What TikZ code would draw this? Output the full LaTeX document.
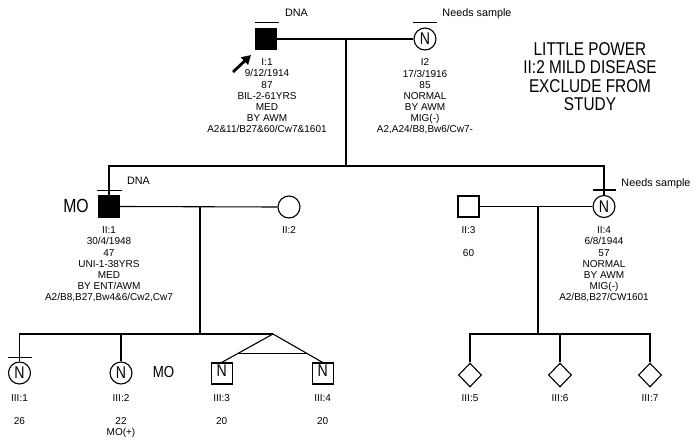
\documentclass[tikz,border=0pt]{standalone}
\usepackage{fontspec}
\setmainfont{Liberation Sans}
\newfontfamily\condfont[FakeStretch=0.83]{Liberation Sans}
\usetikzlibrary{shapes.geometric,arrows.meta,calc}
\begin{document}
\begin{tikzpicture}[x=1pt,y=-1pt, line width=1.1pt,
  male/.style={draw, rectangle, minimum size=21pt, inner sep=0pt},
  affm/.style={male, fill=black},
  female/.style={draw, circle, minimum size=22pt, inner sep=0pt, font=\condfont\fontsize{17}{17}\selectfont},
  unk/.style={draw, diamond, minimum width=23pt, minimum height=24pt, inner sep=0pt},
  infotxt/.style={anchor=north, inner sep=0pt, align=center, font=\fontsize{10}{11.1}\selectfont},
  notetxt/.style={anchor=base, inner sep=0pt, font=\fontsize{10.8}{12}\selectfont},
  bigtxt/.style={anchor=base, inner sep=0pt, font=\condfont\fontsize{19}{19}\selectfont},
  midtxt/.style={anchor=base, inner sep=0pt, font=\condfont\fontsize{16}{16}\selectfont},
  titletxt/.style={anchor=north, inner sep=0pt, align=center, font=\condfont\fontsize{18.5}{18.5}\selectfont},
  ntxt/.style={inner sep=0pt, font=\condfont\fontsize{17}{17}\selectfont},
  barline/.style={line width=1.1pt},
  arrowline/.style={line width=2.8pt, -{Triangle[length=9pt,width=10pt]}}
]
\useasboundingbox (0,0) rectangle (696,441);

% ---------- Generation I ----------
\node[affm] (I1) at (266,39) {};
\node[female] (I2) at (425,39) {N};
\draw[barline] ($(I1.north)+(-11,-5)$) -- ($(I1.north)+(13,-5)$);
\draw[barline] ($(I2.north)+(-12,-5)$) -- ($(I2.north)+(12,-5)$);
\node[notetxt] (dnaI) at (296.5,17) {DNA};
\node[notetxt] (nsI) at (477,17) {Needs sample};
\coordinate (arrT) at (233,72);
\coordinate (arrH) at (251,55);
\draw[arrowline] (arrT) -- (arrH);

\node[infotxt] (I1t) at (267,58.4) {I:1\\9/12/1914\\87\\BIL-2-61YRS\\MED\\BY AWM\\A2\&11/B27\&60/Cw7\&1601};
\node[infotxt] (I2t) at (425,58.4) {I2\\17/3/1916\\85\\NORMAL\\BY AWM\\MIG(-)\\A2,A24/B8,Bw6/Cw7-};

\node[titletxt] (title) at (590,42) {LITTLE POWER\\II:2 MILD DISEASE\\EXCLUDE FROM\\STUDY};

\coordinate (m1) at (346,39);
\coordinate (s1) at (346,166);
\draw (I1.east) -- (I2.west);
\draw (m1) -- (s1);

% ---------- Generation II ----------
\node[affm] (II1) at (109,206.5) {};
\node[female] (II2) at (289,207) {};
\node[male] (II3) at (468.5,206.5) {};
\node[female] (II4) at (604,206.5) {N};
\draw[barline] ($(II1.north)+(-12.5,-5)$) -- ($(II1.north)+(12.5,-5)$);
\draw[barline] ($(II4.north)+(-11.5,-5)$) -- ($(II4.north)+(11.5,-5)$);
\draw (II1.north) |- (s1) -| (II4.north);
\node[notetxt] (dnaII) at (138.5,184) {DNA};
\node[notetxt] (nsII) at (656,186) {Needs sample};
\node[bigtxt] (moII) at (76,212) {MO};

\node[infotxt] (II1t) at (109,226.4) {II:1\\30/4/1948\\47\\UNI-1-38YRS\\MED\\BY ENT/AWM\\A2/B8,B27,Bw4\&6/Cw2,Cw7};
\node[infotxt] (II2t) at (289,226.4) {II:2};
\node[infotxt] (II3t) at (468.5,226.4) {II:3\\~\\60};
\node[infotxt] (II4t) at (604,226.4) {II:4\\6/8/1944\\57\\NORMAL\\BY AWM\\MIG(-)\\A2/B8,B27/CW1601};

\coordinate (m2) at (200,207);
\coordinate (s2) at (200,334);
\coordinate (m3) at (538,207);
\coordinate (s3) at (538,334);
\draw (II1.east) -- (II2.west);
\draw (II3.east) -- (II4.west);
\draw (m2) -- (s2);
\draw (m3) -- (s3);

% ---------- Generation III ----------
\node[female] (III1) at (19.5,373) {N};
\node[female] (III2) at (121,373) {N};
\node[male] (III3) at (221.7,373.5) {};
\node[male] (III4) at (322.7,373.5) {};
\node[ntxt] (n3) at ($(III3.center)+(0,-2.5)$) {N};
\node[ntxt] (n4) at ($(III4.center)+(0,-2.5)$) {N};
\node[unk] (III5) at (470,375) {};
\node[unk] (III6) at (560,375) {};
\node[unk] (III7) at (650,375) {};
\draw[barline] ($(III1.north)+(-12,-4)$) -- ($(III1.north)+(12,-4)$);
\node[midtxt] (moIII) at (163.5,377.7) {MO};

\coordinate (apex) at (273,334);
\draw (III1.north) |- (apex);
\draw (III2.north) -- (III2.north |- apex);
\draw (apex) -- (III3.north);
\draw (apex) -- (III4.north);
\draw ($(apex)!0.69!(III3.north)$) -- ($(apex)!0.69!(III4.north)$);

\draw (III5.north) |- (III7.north |- s3) -- (III7.north);
\draw (III6.north) -- (III6.north |- s3);

\node[infotxt] (III1t) at (19.5,394.4) {III:1\\~\\26};
\node[infotxt] (III2t) at (121,394.4) {III:2\\~\\22\\MO(+)};
\node[infotxt] (III3t) at (221.7,394.4) {III:3\\~\\20};
\node[infotxt] (III4t) at (322.7,394.4) {III:4\\~\\20};
\node[infotxt] (III5t) at (470,394.4) {III:5};
\node[infotxt] (III6t) at (560,394.4) {III:6};
\node[infotxt] (III7t) at (650,394.4) {III:7};
\end{tikzpicture}
\end{document}
